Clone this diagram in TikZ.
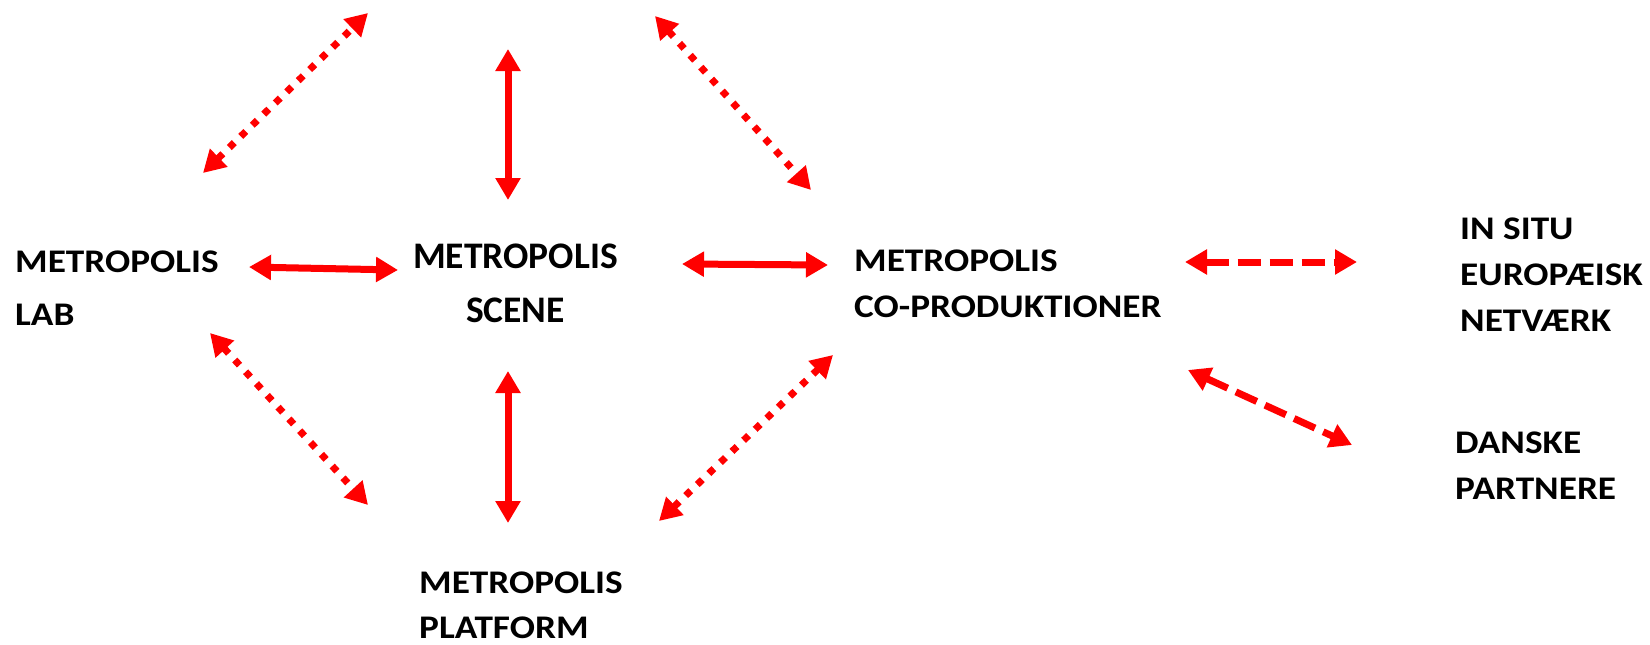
\documentclass[tikz,border=0pt]{standalone}
\usepackage{fontspec}
\setmainfont{Carlito}[FakeStretch=1.13]
\newfontfamily\scenefont{Carlito}
\usetikzlibrary{arrows.meta}

\tikzset{
  lbl/.style={anchor=west, align=left, inner sep=0pt,
    font=\bfseries\fontsize{33}{46}\selectfont},
  biglbl/.style={lbl, align=center, font=\scenefont\bfseries\fontsize{37.5}{54}\selectfont},
  link/.style={red, line width=7pt,
    {Triangle[length=22pt,width=24pt]}-{Triangle[length=22pt,width=24pt]}},
  dotlink/.style={link, dash pattern=on 7pt off 9pt},
  dashlink/.style={link, dash pattern=on 23pt off 9pt},
}

\begin{document}
\begin{tikzpicture}[x=1pt, y=-1pt]
  \useasboundingbox (0,0) rectangle (1650,645);

  % labels
  \node[lbl, font=\bfseries\fontsize{33}{53}\selectfont] (lab) at (15,288) {METROPOLIS\\LAB};
  \node[biglbl] (scene) at (413,283) {METROPOLIS\\SCENE};
  \node[lbl] (coprod) at (854,284) {METROPOLIS\\CO-PRODUKTIONER};
  \node[lbl] (insitu) at (1460,275) {IN SITU\\EUROPÆISK\\NETVÆRK};
  \node[lbl] (danske) at (1455,466) {DANSKE\\PARTNERE};
  \node[lbl, font=\bfseries\fontsize{33}{45}\selectfont] (platform) at (419,605) {METROPOLIS\\PLATFORM};

  % arrow ends
  \coordinate (tl1) at (203,173);  \coordinate (tl2) at (368,13);
  \coordinate (tc1) at (508,49);   \coordinate (tc2) at (508,200);
  \coordinate (tr1) at (655,16);   \coordinate (tr2) at (811,190);
  \coordinate (ml1) at (249,267);  \coordinate (ml2) at (398,270);
  \coordinate (mr1) at (682,264);  \coordinate (mr2) at (828,265);
  \coordinate (bl1) at (210,333);  \coordinate (bl2) at (368,505);
  \coordinate (bc1) at (508,371);  \coordinate (bc2) at (508,523);
  \coordinate (br1) at (833,355);  \coordinate (br2) at (659,521);
  \coordinate (ei1) at (1185,262); \coordinate (ei2) at (1357,262);
  \coordinate (dk1) at (1188,370); \coordinate (dk2) at (1352,445);

  % solid links
  \draw[link] (tc1) -- (tc2);
  \draw[link] (bc1) -- (bc2);
  \draw[link] (ml1) -- (ml2);
  \draw[link] (mr1) -- (mr2);
  % dotted links
  \draw[dotlink] (tl1) -- (tl2);
  \draw[dotlink] (tr1) -- (tr2);
  \draw[dotlink] (bl1) -- (bl2);
  \draw[dotlink] (br1) -- (br2);
  % dashed links
  \draw[dashlink] (ei1) -- (ei2);
  \draw[dashlink] (dk1) -- (dk2);
\end{tikzpicture}
\end{document}
